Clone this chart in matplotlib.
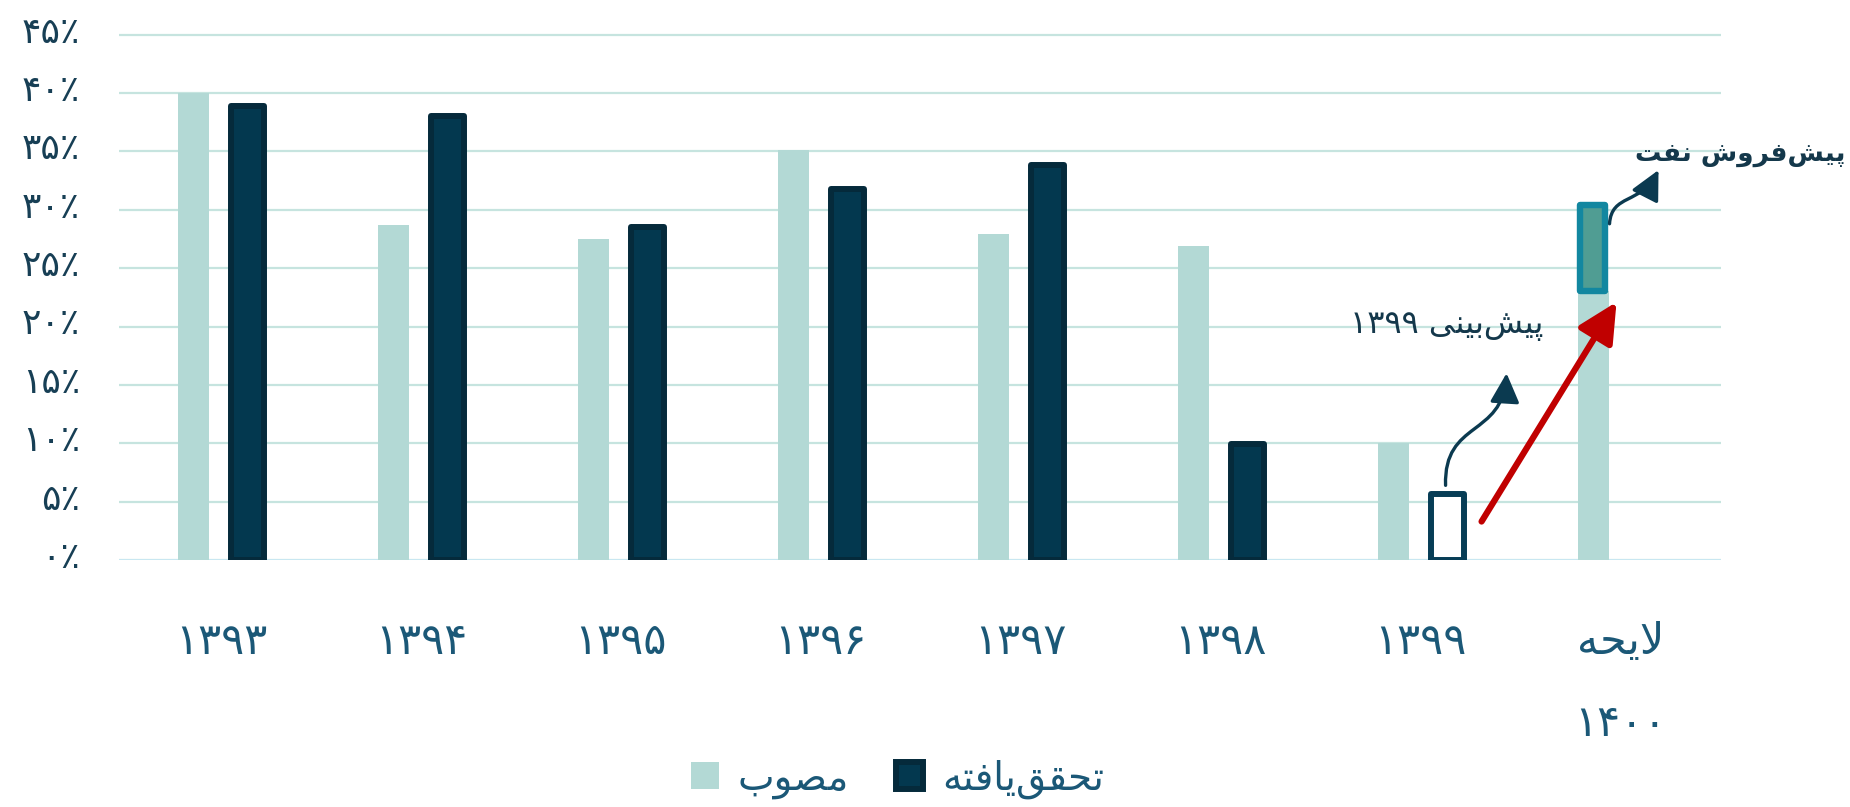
import matplotlib
matplotlib.use("Agg")
import matplotlib.pyplot as plt
from matplotlib.patches import FancyArrowPatch
from matplotlib.path import Path
from matplotlib.transforms import ScaledTranslation
import numpy as np

plt.rcParams['font.family'] = ['DejaVu Sans']

# Persian text, pre-shaped (presentation forms, visual order)
years = ['۱۳۹۳', '۱۳۹۴', '۱۳۹۵', '۱۳۹۶', '۱۳۹۷', '۱۳۹۸', '۱۳۹۹',
         '\uFEEA\uFEA4\uFBFE\uFEFB\n۱۴۰۰']          # لایحه ۱۴۰۰
approved = [40.0, 28.7, 27.5, 35.1, 27.9, 26.9, 10.0, 23.0]   # مصوب
realized = [38.9, 38.0, 28.5, 31.8, 33.8, 9.9]                # تحقق‌یافته 1393-1398
forecast_1399 = 5.7                                           # پیش‌بینی ۱۳۹۹
presale_1400 = 7.4                                            # پیش‌فروش نفت
yticks = [0, 5, 10, 15, 20, 25, 30, 35, 40, 45]
ytick_labels = ['۰٪', '۵٪', '۱۰٪', '۱۵٪', '۲۰٪', '۲۵٪', '۳۰٪', '۳۵٪', '۴۰٪', '۴۵٪']

lbl_approved = '\uFE8F\uFEEE\uFEBC\uFEE3'                                   # مصوب
lbl_realized = '\uFEEA\uFE98\uFED3\uFE8E\uFBFE\uFED6\uFED8\uFEA4\uFE97'     # تحقق‌یافته
txt_forecast = '۱۳۹۹ ' + '\uFBFD\uFEE8\uFBFF\uFE91\uFEB6\uFBFF\uFB58'       # پیش‌بینی ۱۳۹۹
txt_presale = '\uFE96\uFED4\uFEE7 \uFEB5\uFEED\uFEAE\uFED3\uFEB6\uFBFF\uFB58'  # پیش‌فروش نفت

LIGHT = '#b3d9d5'
DARK = '#03384f'
DARK_EDGE = '#052a3b'
TXT = '#173f55'

fig = plt.figure(figsize=(18.5, 8.07), dpi=100)
ax = fig.add_axes([0.0643, 0.306, 0.8657, 0.654])

x = np.arange(len(years))
off = 0.135

ax.bar(x - off, approved, width=0.155, color=LIGHT, zorder=2, label=lbl_approved)
ax.bar(x[:6] + off, realized, width=0.165, color=DARK, edgecolor=DARK_EDGE,
       linewidth=4.3, joinstyle='round', zorder=3, label=lbl_realized)
# 1399 forecast (outlined)
ax.bar(x[6] + off, forecast_1399, width=0.165, color='white', edgecolor='#073d56',
       linewidth=4.3, joinstyle='round', zorder=3)
# 1400 oil pre-sale
ax.bar(x[7] - off - 0.005, presale_1400, bottom=approved[7], width=0.125,
       color='#509d93', edgecolor='#1287a0', linewidth=4.6, joinstyle='round', zorder=4)

ax.set_xlim(-0.51, 7.5)
ax.set_ylim(0, 45.2)
ax.set_yticks(yticks)
ax.set_yticklabels(ytick_labels, fontsize=26, color=TXT)
ax.set_xticks(x)
ax.set_xticklabels(years, fontsize=31, color='#1b5877', linespacing=2.2)
ax.tick_params(axis='y', length=0, pad=28)
ax.tick_params(axis='x', length=0, pad=44)
for lab in ax.get_yticklabels():
    lab.set_transform(lab.get_transform() + ScaledTranslation(0, 4 / 72, fig.dpi_scale_trans))

ax.grid(axis='y', color='#c6e4df', linewidth=1.6, zorder=0)
ax.set_axisbelow(True)
for s in ax.spines.values():
    s.set_visible(False)
ax.axhline(0, color='#c9e9f7', linewidth=1.8, zorder=1)

# red trend arrow
ax.add_patch(FancyArrowPatch((6.305, 3.3), (6.98, 22.1),
                             arrowstyle='-|>,head_length=1.2,head_width=0.6',
                             mutation_scale=20, color='#c00000', linewidth=4.5,
                             shrinkA=0, shrinkB=0, zorder=5))

# curved annotation arrows (S-shaped)
def s_arrow(pts):
    path = Path(pts, [Path.MOVETO, Path.CURVE4, Path.CURVE4, Path.CURVE4])
    ax.add_patch(FancyArrowPatch(path=path, arrowstyle='-|>,head_length=0.9,head_width=0.45',
                                 mutation_scale=20, color='#0b3a50', linewidth=2.4,
                                 transform=ax.transData, zorder=6))

s_arrow([(6.125, 6.4), (6.115, 12.0), (6.41, 10.5), (6.43, 16.0)])
s_arrow([(6.945, 28.8), (6.955, 31.4), (7.10, 30.4), (7.19, 33.4)])

ax.text(6.13, 20.1, txt_forecast, fontsize=23, color='#14384b',
        ha='center', va='center')
ax.text(7.6, 34.75, txt_presale, fontsize=19, color='#14384b', fontweight='bold',
        ha='center', va='center')

fig.legend(loc='center', bbox_to_anchor=(898 / 1850, 1 - 779 / 807), ncol=2,
           frameon=False, fontsize=28, labelcolor='#1b5877', handlelength=0.7,
           handleheight=0.7, handletextpad=0.5, columnspacing=1.2)

fig.savefig('out.png', dpi=100)
